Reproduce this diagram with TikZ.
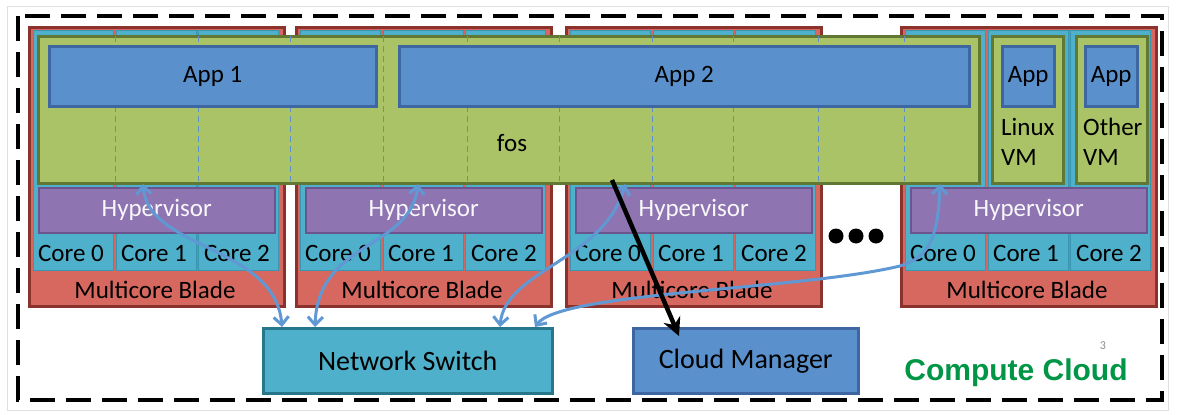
\documentclass[tikz,border=0pt]{standalone}
\usepackage{fontspec}
\setmainfont{Carlito}
\newfontfamily\cloudfont{Liberation Sans}
\usetikzlibrary{arrows.meta,positioning}

\definecolor{bladered}{RGB}{214,104,96}
\definecolor{bladeline}{RGB}{140,50,45}
\definecolor{corecyan}{RGB}{78,176,202}
\definecolor{coreline}{RGB}{58,150,176}
\definecolor{hyperpurple}{RGB}{142,117,177}
\definecolor{hyperline}{RGB}{108,84,142}
\definecolor{fosgreen}{RGB}{170,195,102}
\definecolor{fosline}{RGB}{96,120,52}
\definecolor{appblue}{RGB}{90,145,205}
\definecolor{appline}{RGB}{62,102,160}
\definecolor{switchline}{RGB}{38,118,140}
\definecolor{linkblue}{RGB}{96,152,212}
\definecolor{cloudgreen}{RGB}{0,150,70}

\tikzset{
  box/.style={anchor=north west, inner sep=0pt},
  bladebox/.style={box, draw=bladeline, line width=2.5pt, fill=bladered,
    minimum width=255pt, minimum height=279pt},
  corecol/.style={box, draw=coreline, line width=1pt, fill=corecyan,
    minimum width=80pt, minimum height=240pt},
  hyperbox/.style={box, draw=hyperline, line width=1.5pt, fill=hyperpurple,
    minimum width=236pt, minimum height=45pt, text=white!94!hyperpurple},
  fosbox/.style={box, draw=fosline, line width=3pt, fill=fosgreen},
  appbox/.style={box, draw=appline, line width=2.5pt, fill=appblue,
    minimum height=60pt},
  txt/.style={inner sep=0pt, font=\fontsize{25}{30}\selectfont},
  bigtxt/.style={inner sep=0pt, font=\fontsize{28}{32}\selectfont},
  link/.style={linkblue, line width=3pt,
    {Straight Barb[length=8pt,width=15pt]}-{Straight Barb[length=8pt,width=15pt]}},
  corelink/.style={black, line width=4.5pt, -{Stealth[length=18pt,width=18pt,inset=6pt]}},
}

\newcommand{\drawblade}[2]{%
  % #1 = name of the blade, #2 = left edge
  \node[bladebox] (#1) at (#2,26) {};
  \node[corecol] (#1c0) at (#2+5,30) {};
  \node[corecol] (#1c1) at (#2+88,30) {};
  \node[corecol] (#1c2) at (#2+170,30) {};
  \node[hyperbox, txt] (#1h) at (#2+10,187) {Hypervisor};
  \node[txt] (#1t0) at (#2+43,253) {Core 0};
  \node[txt] (#1t1) at (#2+126,253) {Core 1};
  \node[txt] (#1t2) at (#2+209,253) {Core 2};
  \node[txt] (#1n) at (#2+127,290) {Multicore Blade};
}

\begin{document}
\begin{tikzpicture}[x=1pt,y=-1pt]
  \useasboundingbox (0,0) rectangle (1179,415);
  \draw[black!12, line width=1pt] (7,6) rectangle (1168,410);
  \draw[black, line width=4pt, dash pattern=on 25pt off 11pt] (18,16) rectangle (1162,400);

  % the four blades
  \drawblade{bA}{28}
  \drawblade{bB}{295}
  \drawblade{bC}{565}
  \drawblade{bD}{900}

  % fos spans the blades
  \node[fosbox, minimum width=941pt, minimum height=147pt] (fos) at (37,35) {};
  \draw[appblue, line width=1pt, dash pattern=on 6pt off 4pt]
    (115,36) -- (115,181) (198,36) -- (198,181) (290,36) -- (290,181)
    (383,36) -- (383,181) (467,36) -- (467,181) (559,36) -- (559,181)
    (652,36) -- (652,181) (733,36) -- (733,181) (818,36) -- (818,181)
    (904,36) -- (904,181);
  \node[txt] (fosname) at (512,143) {fos};
  \node[appbox, txt, minimum width=327pt] (app1) at (48,45) {App 1};
  \node[appbox, txt, minimum width=570pt] (app2) at (398,45) {App 2};

  % single VMs on the last blade
  \node[fosbox, minimum width=71pt, minimum height=147pt] (vm1) at (991,35) {};
  \node[appbox, txt, minimum width=52pt] (app3) at (1001,45) {App};
  \node[txt, anchor=north west, align=left] (vm1name) at (1001,118) {Linux\\VM};
  \node[fosbox, minimum width=71pt, minimum height=147pt] (vm2) at (1075,35) {};
  \node[appbox, txt, minimum width=52pt] (app4) at (1084,45) {App};
  \node[txt, anchor=north west, align=left] (vm2name) at (1083,118) {Other\\VM};

  \foreach \x in {836,856,876} \fill (\x,236) circle (7.5);

  \node[box, draw=switchline, line width=2.5pt, fill=corecyan, bigtxt,
    minimum width=289pt, minimum height=65pt] (sw) at (262,327) {Network Switch};
  \node[box, draw=appline, line width=2.5pt, fill=appblue, bigtxt,
    minimum width=225pt, minimum height=65pt] (cm) at (632,327) {Cloud Manager};
  \node[font=\cloudfont\bfseries\fontsize{30}{34}\selectfont, text=cloudgreen,
    inner sep=0pt] (cc) at (1016,373) {Compute Cloud};
  \node[font=\fontsize{12}{13}\selectfont, text=black!45, inner sep=0pt] (pg) at (1103,346) {3};

  % links
  \coordinate (t1) at (143,184);
  \coordinate (t2) at (418,184);
  \coordinate (t3) at (625,184);
  \coordinate (t4) at (940,184);
  \coordinate (t5) at (612,180);
  \draw[link] (t1) .. controls (148,250) and (275,245) .. ([xshift=20]sw.north west);
  \draw[link] (t2) .. controls (410,250) and (318,240) .. ([xshift=53]sw.north west);
  \draw[link] (t3) .. controls (605,260) and (505,270) .. ([xshift=238]sw.north west);
  \draw[link] (t4) .. controls (938,245) and (925,258) .. (900,266)
    .. controls (800,290) and (560,292) .. ([xshift=273]sw.north west);
  \draw[corelink] (t5) -- ([xshift=47,yshift=-9]cm.north west);
\end{tikzpicture}
\end{document}
